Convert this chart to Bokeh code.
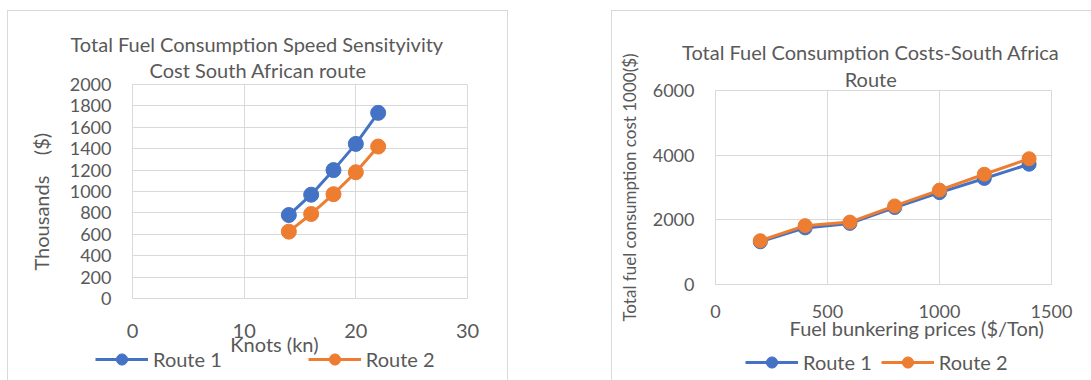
from bokeh.plotting import figure
from bokeh.models import Range1d, FixedTicker, Legend, LegendItem, Title
from bokeh.embed import file_html
from bokeh.resources import INLINE

# ---- data ----
speeds = [14, 16, 18, 20, 22]
speed_route1 = [780, 970, 1200, 1445, 1735]
speed_route2 = [625, 790, 975, 1180, 1420]

prices = [200, 400, 600, 800, 1000, 1200, 1400]
price_route1 = [1320, 1750, 1890, 2380, 2840, 3280, 3720]
price_route2 = [1355, 1820, 1930, 2430, 2920, 3410, 3890]

left_title = ["Total Fuel Consumption Speed Sensityivity", "Cost South African route"]
right_title = ["Total Fuel Consumption Costs-South Africa", "Route"]
series_names = ["Route 1", "Route 2"]

BLUE = "#4472C4"
ORANGE = "#ED7D31"
GRID = "#d9d9d9"
TXT = "#595959"
FONT = "Lato"
NB = "\u00a0"


def base_fig(width, height, left, right, top, bottom, xr, yr, xt, yt):
    p = figure(width=width, height=height, output_backend="svg", toolbar_location=None,
               title=None, x_range=Range1d(*xr), y_range=Range1d(*yr),
               min_border_left=left, min_border_right=right,
               min_border_top=top, min_border_bottom=bottom)
    p.outline_line_color = GRID
    p.background_fill_color = "white"
    p.border_fill_color = "white"
    p.xaxis.ticker = FixedTicker(ticks=xt)
    p.yaxis.ticker = FixedTicker(ticks=yt)
    p.xgrid.ticker = FixedTicker(ticks=xt)
    p.ygrid.ticker = FixedTicker(ticks=yt)
    for g in (p.xgrid, p.ygrid):
        g.grid_line_color = GRID
        g.grid_line_width = 1
    for ax in (p.xaxis, p.yaxis):
        ax.axis_line_color = GRID
        ax.major_tick_line_color = None
        ax.minor_tick_line_color = None
        ax.major_tick_out = 0
        ax.major_tick_in = 0
        ax.major_label_text_color = TXT
        ax.major_label_text_font = FONT
        ax.axis_label_text_color = TXT
        ax.axis_label_text_font = FONT
        ax.axis_label_text_font_style = "normal"
    return p


def title_line(p, txt, standoff, align="center", offset=0):
    p.add_layout(Title(text=txt, align=align, offset=offset, standoff=standoff,
                       text_font=FONT, text_font_size="20px", text_color=TXT,
                       text_font_style="normal"), "above")


def series(p, xs, ys, color, size, visible=True):
    l = p.line(xs, ys, line_color=color, line_width=3, visible=visible)
    s = p.scatter(xs, ys, marker="circle", size=size, fill_color=color, line_color=color,
                  visible=visible)
    return [l, s]


# ---- left chart ----
p1 = base_fig(501, 370, 124, 42, 73, 83, (0, 30), (0, 2000),
              [0, 10, 20, 30], list(range(0, 2001, 200)))
series(p1, speeds, speed_route1, BLUE, 15)
series(p1, speeds, speed_route2, ORANGE, 15)
# first added sits closest to the frame
title_line(p1, left_title[1], 6, "left", 17)
title_line(p1, left_title[0], -6, "left", -62)
p1.yaxis.major_label_text_font_size = "18px"
p1.yaxis.major_label_standoff = 21
p1.yaxis.axis_label = "Thousands" + NB * 4 + "($)" + NB * 4
p1.yaxis.axis_label_text_font_size = "20px"
p1.yaxis.axis_label_standoff = 14
p1.xaxis.major_label_text_font_size = "20px"
p1.xaxis.major_label_standoff = 25
p1.xaxis.axis_label = "Knots (kn)" + NB * 10
p1.xaxis.axis_label_text_font_size = "20px"
p1.xaxis.axis_label_standoff = -9
p1.styles = {"position": "absolute", "left": "7px", "top": "10px",
             "border-top": "1px solid #d9d9d9", "border-left": "1px solid #d9d9d9",
             "border-right": "1px solid #d9d9d9", "box-sizing": "border-box"}

# ---- right chart ----
p2 = base_fig(480, 370, 103, 41, 79, 97, (0, 1500), (0, 6000),
              [0, 500, 1000, 1500], [0, 2000, 4000, 6000])
series(p2, prices, price_route1, BLUE, 14)
series(p2, prices, price_route2, ORANGE, 14)
title_line(p2, right_title[1] + NB * 5, 0)
title_line(p2, right_title[0] + NB * 5, 2)
p2.yaxis.major_label_text_font_size = "18px"
p2.yaxis.major_label_standoff = 21
p2.yaxis.axis_label = "Total fuel consumption cost 1000($)"
p2.yaxis.axis_label_text_font_size = "17px"
p2.yaxis.axis_label_standoff = 10
p2.xaxis.major_label_text_font_size = "18px"
p2.xaxis.major_label_standoff = 20
p2.xaxis.axis_label = NB * 13 + "Fuel bunkering prices ($/Ton)"
p2.xaxis.axis_label_text_font_size = "20px"
p2.xaxis.axis_label_standoff = -5
p2.styles = {"position": "absolute", "left": "611px", "top": "10px",
             "border-top": "1px solid #d9d9d9", "border-left": "1px solid #d9d9d9",
             "box-sizing": "border-box"}

# ---- transparent overlay that carries the two legends ----
ov = figure(width=1091, height=380, output_backend="svg", toolbar_location=None,
            title=None, x_axis_type=None, y_axis_type=None, min_border=0)
ov.background_fill_alpha = 0
ov.border_fill_alpha = 0
ov.outline_line_color = None
ov.grid.visible = False
keys = {
    series_names[0]: series(ov, speeds, speed_route1, BLUE, 10, visible=False),
    series_names[1]: series(ov, speeds, speed_route2, ORANGE, 10, visible=False),
}


def legend(loc, spacing):
    lg = Legend(items=[LegendItem(label=n, renderers=keys[n]) for n in series_names],
                location=loc, orientation="horizontal",
                glyph_width=53, glyph_height=28, label_standoff=5, spacing=spacing,
                padding=0, margin=0, border_line_color=None, background_fill_alpha=0,
                label_text_font=FONT, label_text_font_size="20px", label_text_color=TXT)
    ov.add_layout(lg)


legend((95, 7), 86)
legend((745, 4), 9)
ov.styles = {"position": "absolute", "left": "0px", "top": "0px"}

open("out.html", "w").write(file_html([p1, p2, ov], INLINE))
